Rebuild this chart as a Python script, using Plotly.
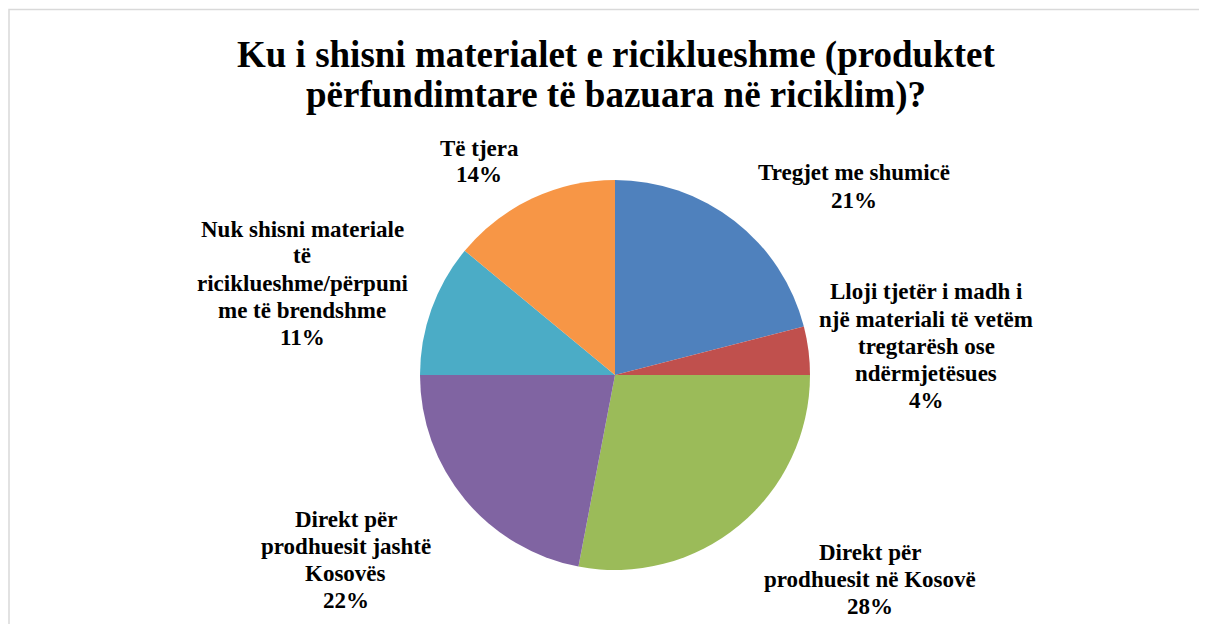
import plotly.graph_objects as go

W, H = 1207, 624
OFF = 8  # page body margin in the browser

categories = [
    "Tregjet me shumicë",
    "Lloji tjetër i madh i një materiali të vetëm tregtarësh ose ndërmjetësues",
    "Direkt për prodhuesit në Kosovë",
    "Direkt për prodhuesit jashtë Kosovës",
    "Nuk shisni materiale të ricikluesh" + "me/përpunime të brendshme",
    "Të tjera",
]
values = [21, 4, 28, 22, 11, 14]
label_lines = [
    ["Tregjet me shumicë"],
    ["Lloji tjetër i madh i", "një materiali të vetëm", "tregtarësh ose", "ndërmjetësues"],
    ["Direkt për", "prodhuesit në Kosovë"],
    ["Direkt për", "prodhuesit jashtë", "Kosovës"],
    ["Nuk shisni materiale", "të", "ricikluesh" + "me/përpuni", "me të brendshme"],
    ["Të tjera"],
]
colors = ["#4F81BD", "#C0504D", "#9BBB59", "#8064A2", "#4BACC6", "#F79646"]
title_lines = [
    "Ku i shisni materialet e ricikluesh" + "me (produktet",
    "përfundimtare të bazuara në riciklim)?",
]

# label blocks: centre x and y of first line (pixels from page top-left), line step
label_pos = [(854, 173), (926, 292), (870, 552), (346, 519), (302, 229), (479, 148)]
LINE_STEP = 27

cx, cy, r = 615, 375, 195


def fx(px):
    return (px - OFF) / W


def fy(py):
    return 1 - (py - OFF) / H


fig = go.Figure(go.Pie(
    labels=categories,
    values=values,
    sort=False,
    direction="clockwise",
    rotation=0,
    marker=dict(colors=colors, line=dict(width=0)),
    textinfo="none",
    hoverinfo="label+percent",
    showlegend=False,
    domain=dict(x=[fx(cx - r), fx(cx + r)], y=[fy(cy + r), fy(cy - r)]),
))

serif = "Liberation Serif, Times New Roman, serif"
lab_font = dict(family=serif, size=23, color="#000000")
total = sum(values)
for lines, v, (px, py) in zip(label_lines, values, label_pos):
    all_lines = lines + [f"{round(100 * v / total)}%"]
    for i, ln in enumerate(all_lines):
        fig.add_annotation(x=fx(px), y=fy(py + i * LINE_STEP), xref="paper", yref="paper",
                           text=f"<b>{ln}</b>", showarrow=False, font=lab_font,
                           xanchor="center", yanchor="middle", align="center")

title_font = dict(family=serif, size=37, color="#000000")
for i, (ln, ty) in enumerate(zip(title_lines, [55, 95])):
    fig.add_annotation(x=fx(616), y=fy(ty), xref="paper", yref="paper",
                       text=f"<b>{ln}</b>", showarrow=False, font=title_font,
                       xanchor="center", yanchor="middle", align="center")

fig.add_shape(type="rect", xref="paper", yref="paper",
              x0=fx(9), x1=1.05, y0=-0.05, y1=fy(9.5),
              line=dict(color="#D9D9D9", width=1.5), fillcolor="rgba(0,0,0,0)")

fig.update_layout(
    width=W, height=H,
    margin=dict(l=0, r=0, t=0, b=0),
    paper_bgcolor="white",
    plot_bgcolor="white",
)

fig.write_html("out.html")
